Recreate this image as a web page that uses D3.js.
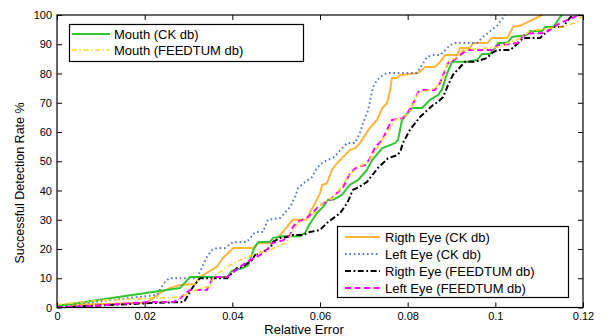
<!DOCTYPE html>
<html><head><meta charset="utf-8">
<script src="https://cdn.jsdelivr.net/npm/d3@7"></script>
<style>body{margin:0;background:#fff}svg{display:block}text{font-family:"Liberation Sans",Arial,sans-serif;fill:#000}</style>
</head><body>
<svg id="c" width="603" height="336"></svg>
<script>
const xTicks = [0, 0.02, 0.04, 0.06, 0.08, 0.1, 0.12];
const xTickLabels = ["0", "0.02", "0.04", "0.06", "0.08", "0.1", "0.12"];
const yTicks = [0, 10, 20, 30, 40, 50, 60, 70, 80, 90, 100];

const rightEyeCK = [[0,0.8],[0.0205,1.6],[0.0235,5],[0.0258,6.7],[0.0281,7.7],[0.0315,8],[0.0326,10.4],[0.0365,14],[0.0379,17],[0.0402,20.3],[0.0447,20.3],[0.0459,22],[0.0493,22],[0.0516,26],[0.0538,30],[0.0570,30],[0.0577,32.6],[0.0589,35.7],[0.0600,39],[0.0605,41.9],[0.0616,42.5],[0.0627,47],[0.0639,49.4],[0.0646,50.4],[0.0668,53.8],[0.0680,54.5],[0.0691,56.2],[0.0703,59],[0.0714,61.4],[0.0730,64.1],[0.0742,68.2],[0.0753,69.9],[0.0760,74.4],[0.0764,78.5],[0.0776,78.5],[0.0783,79.5],[0.0824,80.2],[0.0840,82.2],[0.0862,82.2],[0.0874,83.9],[0.0885,86.3],[0.0913,86.3],[0.0919,88.7],[0.0942,88.7],[0.0949,90.4],[0.0981,90.4],[0.0992,92.1],[0.1027,92.1],[0.1041,96],[0.1056,96.3],[0.1107,100]];
const leftEyeCK = [[0,0.5],[0.0228,4.3],[0.0244,8.3],[0.0256,10],[0.0319,10],[0.0342,17.3],[0.0354,19.7],[0.0365,20.3],[0.0383,20.3],[0.0402,22.4],[0.0433,22.4],[0.0452,25.8],[0.0470,25.8],[0.0481,30],[0.0509,30.6],[0.0532,34.4],[0.0543,37.8],[0.0550,40.8],[0.0566,42.9],[0.0582,44.6],[0.0593,47.7],[0.0607,49.7],[0.0632,51.4],[0.0653,54.9],[0.0662,56.2],[0.0680,56.2],[0.0691,59.7],[0.0698,63],[0.0710,67.5],[0.0721,75.4],[0.0730,77.8],[0.0744,79.5],[0.0753,80.2],[0.0821,80.2],[0.0844,85.6],[0.0858,86.3],[0.0874,86.3],[0.0897,89.7],[0.0908,90.4],[0.0958,90.4],[0.0972,92.5],[0.0992,94.9],[0.1006,96.6],[0.1022,100]];
const mouthCK = [[0,0.5],[0.0265,6.3],[0.0281,6.7],[0.0303,10.4],[0.0388,10.4],[0.0399,12.5],[0.0424,13.5],[0.0436,14.5],[0.0449,20],[0.0459,22.4],[0.0486,22.4],[0.0493,23.8],[0.0513,24.4],[0.0554,24.4],[0.0566,25.5],[0.0575,28.2],[0.0593,32.3],[0.0607,34.4],[0.0618,36.8],[0.0630,36.8],[0.0650,38.5],[0.0668,41.9],[0.0687,43.6],[0.0707,47],[0.0719,50.4],[0.0742,54.5],[0.0771,56.2],[0.0778,57.3],[0.0787,64.1],[0.0810,68.2],[0.0833,68.2],[0.0851,71],[0.0869,72.6],[0.0878,74.4],[0.0890,80],[0.0901,84],[0.0935,84],[0.0958,84.6],[0.0970,86.7],[0.0988,86.7],[0.0999,88.7],[0.1006,90.4],[0.1027,90.4],[0.1038,92.5],[0.1072,93.2],[0.1079,94.5],[0.1107,94.5],[0.1113,95.9],[0.1132,95.9],[0.1148,99.3],[0.1152,100]];
const rightEyeFT = [[0,0],[0.0212,1.5],[0.0290,1.9],[0.0310,7],[0.0326,10],[0.0388,10],[0.0413,13.8],[0.0422,13.8],[0.0445,16.2],[0.0452,18],[0.0479,19.7],[0.0491,21.4],[0.0493,22.4],[0.0509,23.8],[0.0525,24.1],[0.0538,24.8],[0.0561,24.8],[0.0577,25.8],[0.0600,26.5],[0.0616,28.9],[0.0646,32.3],[0.0662,35.7],[0.0675,40.2],[0.0687,41],[0.0707,42.9],[0.0732,47.7],[0.0744,49.4],[0.0755,51],[0.0776,52.1],[0.0783,53.2],[0.0789,56.2],[0.0805,60.7],[0.0817,63],[0.0828,65.1],[0.0840,66.8],[0.0858,69.2],[0.0869,70.3],[0.0881,72],[0.0892,76],[0.0903,79.5],[0.0924,82.9],[0.0931,84],[0.0954,84],[0.0981,85.3],[0.0992,87],[0.1004,88],[0.1034,88],[0.1052,90.4],[0.1063,92.1],[0.1102,92.1],[0.1129,95.9],[0.1154,95.9],[0.1170,99],[0.1180,100]];
const leftEyeFT = [[0,0],[0.0075,0.5],[0.0212,1.9],[0.0267,1.9],[0.0281,3.2],[0.0303,6],[0.0342,6],[0.0356,10.4],[0.0388,10.4],[0.0402,12.1],[0.0433,15.6],[0.0456,17.3],[0.0470,18.6],[0.0479,19.7],[0.0491,22],[0.0516,23],[0.0532,24.8],[0.0538,27.5],[0.0548,29.2],[0.0570,30.6],[0.0584,32.6],[0.0600,35],[0.0623,36.8],[0.0641,39.5],[0.0653,41.2],[0.0668,45.8],[0.0684,48],[0.0703,48.7],[0.0714,51],[0.0726,54.9],[0.0742,57.3],[0.0753,60.7],[0.0764,64.1],[0.0789,64.8],[0.0801,66.8],[0.0817,71],[0.0824,73.7],[0.0833,74.4],[0.0862,74.4],[0.0874,76.8],[0.0892,83.6],[0.0901,84],[0.0919,86.3],[0.0935,88],[0.0995,88],[0.1006,89.7],[0.1050,90.4],[0.1063,92.8],[0.1079,93.8],[0.1113,93.8],[0.1148,97.3],[0.1182,99.4],[0.1189,100]];
const mouthFT = [[0,1],[0.0098,2.5],[0.0281,3.5],[0.0301,5],[0.0335,7],[0.0349,7],[0.0358,10.8],[0.0395,14.5],[0.0433,17.3],[0.0486,19.7],[0.0525,22.4],[0.0538,26],[0.0550,29],[0.0575,30.5],[0.0590,32.8],[0.0605,35.5],[0.0630,37.5],[0.0645,40.5],[0.0665,45],[0.0687,48],[0.0707,49.4],[0.0720,52],[0.0735,55.5],[0.0750,59],[0.0771,64.1],[0.0783,64.5],[0.0800,66],[0.0815,70],[0.0824,73.3],[0.0856,74.7],[0.0862,74.7],[0.0880,78],[0.0892,84],[0.0913,85.6],[0.0926,88],[0.0981,88.7],[0.1004,89],[0.1056,92],[0.1079,94.5],[0.1125,95.5],[0.1154,95.9],[0.1186,97.6],[0.12,100]];

const seriesNames = ["Rigth Eye (CK db)","Left Eye (CK db)","Mouth (CK db)","Rigth Eye (FEEDTUM db)","Left Eye (FEEDTUM db)","Mouth (FEEDTUM db)"];
const seriesData = [rightEyeCK, leftEyeCK, mouthCK, rightEyeFT, leftEyeFT, mouthFT];

const styles = [
  {color:"#FFB43C", dash:null, w:2},
  {color:"#5B76C0", dash:"1.6,2.8", w:2},
  {color:"#33C433", dash:null, w:2},
  {color:"#000000", dash:"6,2.5,1.8,2.5", w:2},
  {color:"#FF00FF", dash:"6,3.5", w:2},
  {color:"#FFD52A", dash:"5,2.5,1.5,2.5", w:1.6}
];

const L=57, R=583, T=15, B=307.5;
const x = d3.scaleLinear().domain([0,0.12]).range([L,R]);
const y = d3.scaleLinear().domain([0,100]).range([B,T]);
const svg = d3.select("#c");

svg.append("clipPath").attr("id","pc").append("rect").attr("x",L).attr("y",T-1).attr("width",R-L).attr("height",B-T+1);

const line = d3.line().x(d=>x(d[0])).y(d=>y(d[1]));
const gLines = svg.append("g").attr("clip-path","url(#pc)");
seriesData.forEach((s,i)=>{
  gLines.append("path").datum(s).attr("d",line).attr("fill","none")
    .attr("stroke",styles[i].color).attr("stroke-width",styles[i].w)
    .attr("stroke-dasharray",styles[i].dash).attr("stroke-linejoin","round");
});

const fmt = (d,i)=>xTickLabels[i];
svg.append("g").attr("transform",`translate(0,${B})`)
  .call(d3.axisBottom(x).tickValues(xTicks).tickFormat(fmt).tickSizeInner(-5).tickSizeOuter(0).tickPadding(5))
  .call(g=>{g.select(".domain").remove(); g.selectAll("text").attr("font-size",11).attr("font-family","Liberation Sans, Arial");});
svg.append("g").attr("transform",`translate(0,${T})`)
  .call(d3.axisTop(x).tickValues(xTicks).tickFormat("").tickSizeInner(-5).tickSizeOuter(0))
  .call(g=>g.select(".domain").remove());
svg.append("g").attr("transform",`translate(${L},0)`)
  .call(d3.axisLeft(y).tickValues(yTicks).tickSizeInner(-5).tickSizeOuter(0).tickPadding(5))
  .call(g=>{g.select(".domain").remove(); g.selectAll("text").attr("font-size",11).attr("font-family","Liberation Sans, Arial");});
svg.append("g").attr("transform",`translate(${R},0)`)
  .call(d3.axisRight(y).tickValues(yTicks).tickFormat("").tickSizeInner(-5).tickSizeOuter(0))
  .call(g=>g.select(".domain").remove());
svg.selectAll(".tick line").attr("stroke","#000");
svg.append("rect").attr("x",L).attr("y",T).attr("width",R-L).attr("height",B-T)
  .attr("fill","none").attr("stroke","#000").attr("stroke-width",1.2);

svg.append("text").attr("x",304).attr("y",334).attr("text-anchor","middle").attr("font-size",13).text("Relative Error");
svg.append("text").attr("transform","translate(24,183) rotate(-90)").attr("text-anchor","middle").attr("font-size",12.5).text("Successful Detection Rate %");

function legend(x0,y0,w,h,items,rowY,sx0,sx1,tx){
  const g = svg.append("g");
  g.append("rect").attr("x",x0).attr("y",y0).attr("width",w).attr("height",h).attr("fill","#fff").attr("stroke","#000").attr("stroke-width",1.2);
  items.forEach((idx,k)=>{
    const yy = rowY[k];
    g.append("line").attr("x1",sx0).attr("x2",sx1).attr("y1",yy).attr("y2",yy)
      .attr("stroke",styles[idx].color).attr("stroke-width",styles[idx].w).attr("stroke-dasharray",styles[idx].dash);
    g.append("text").attr("x",tx).attr("y",yy+4.6).attr("font-size",13).text(seriesNames[idx]);
  });
}
legend(69.5,24.5,234,37,[2,5],[34,50],72,110,114);
legend(337.5,226.5,231,71,[0,1,3,4],[237,254,271,288],345,380,385);
</script>
</body></html>
